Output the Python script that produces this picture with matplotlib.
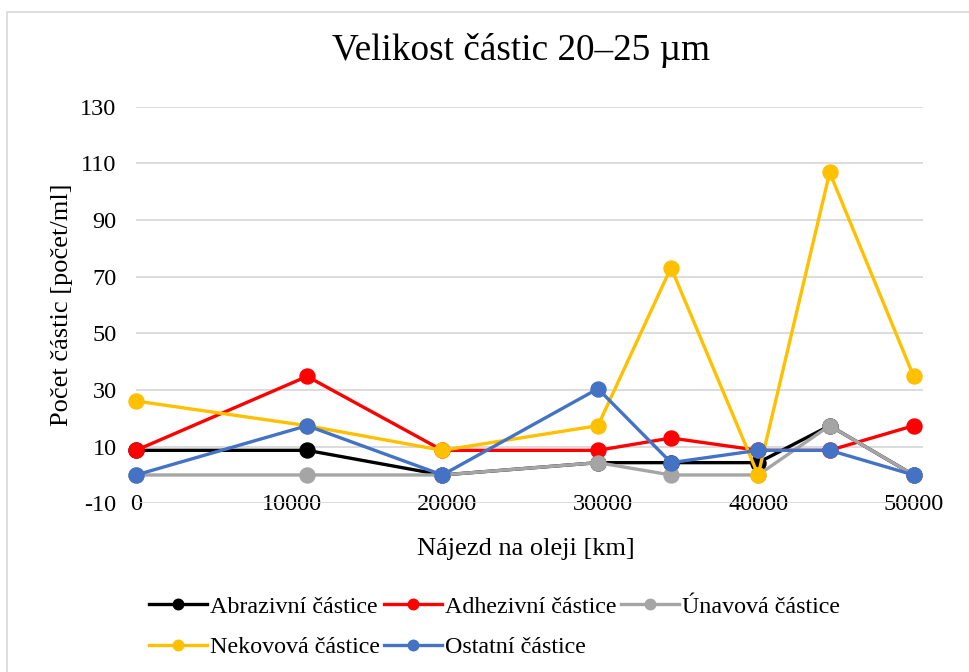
import matplotlib.pyplot as plt
from matplotlib.patches import Rectangle

# mileage on oil [km]
mileage = [0, 11000, 19700, 29700, 34400, 40000, 44600, 50000]

abrazivni = [8.7, 8.7, 0, 4.35, 4.35, 4.35, 17.4, 0]
adhezivni = [8.7, 34.8, 8.7, 8.7, 13.05, 8.7, 8.7, 17.4]
unavova = [0, 0, 0, 4.35, 0, 0, 17.4, 0]
nekovova = [26.1, 17.4, 8.7, 17.4, 73.2, 0, 106.8, 34.8]
ostatni = [0, 17.4, 0, 30.45, 4.35, 8.7, 8.7, 0]

series_names = ["Abrazivní částice", "Adhezivní částice", "Únavová částice",
                "Nekovová částice", "Ostatní částice"]
series_colors = ["#000000", "#FF0000", "#A5A5A5", "#FFC000", "#4472C4"]

y_ticks = [-10, 10, 30, 50, 70, 90, 110, 130]
x_ticks = [0, 10000, 20000, 30000, 40000, 50000]

plt.rcParams["font.family"] = ["Liberation Serif", "DejaVu Serif"]
plt.rcParams["axes.unicode_minus"] = False

fig = plt.figure(figsize=(9.69, 6.72), dpi=100)
W, H = 969, 672

# outer chart border
fig.patches.append(Rectangle((7 / W, -0.1), 1.1, 1.1 - 12 / H, transform=fig.transFigure,
                             fill=False, edgecolor="#D9D9D9", linewidth=1.2))

ax = fig.add_axes([136 / W, 1 - 503.3 / H, (923 - 136) / W, (503.3 - 106.7) / H])

lines = []
for vals, name, col in zip([abrazivni, adhezivni, unavova, nekovova, ostatni],
                           series_names, series_colors):
    (ln,) = ax.plot(mileage, vals, color=col, linewidth=2.4, marker="o",
                    markersize=10.8, label=name, clip_on=False, zorder=3)
    lines.append(ln)

ax.set_xlim(0, 50600)
ax.set_ylim(-10, 130)
ax.set_yticks(y_ticks)
ax.set_xticks(x_ticks)
ax.grid(axis="y", color="#D9D9D9", linewidth=1.3)
ax.set_axisbelow(True)

for s in ["top", "right", "left"]:
    ax.spines[s].set_visible(False)
ax.spines["bottom"].set_position(("data", 0))
ax.spines["bottom"].set_visible(False)
ax.tick_params(axis="both", length=0, labelsize=17.5)
ax.tick_params(axis="y", pad=14)
ax.tick_params(axis="x", pad=14)

ax.set_xlabel("Nájezd na oleji [km]", fontsize=19)
ax.xaxis.set_label_coords(0.496, -0.088)
ax.set_ylabel("Počet částic [počet/ml]", fontsize=19)
ax.yaxis.set_label_coords(-0.080, 0.5)

fig.text(521 / W, 1 - 50 / H, "Velikost částic 20–25 µm", fontsize=26.8,
         ha="center", va="center")

order = [0, 3, 1, 4, 2]
fig.legend([lines[i] for i in order], [series_names[i] for i in order],
           loc="upper left", bbox_to_anchor=(137 / W, 1 - 584 / H), ncol=3,
           frameon=False, fontsize=17.3, handlelength=2.4, handletextpad=0.12,
           columnspacing=0.2, labelspacing=0.78, borderpad=0, markerscale=0.7)

fig.savefig("out.png", dpi=100)
